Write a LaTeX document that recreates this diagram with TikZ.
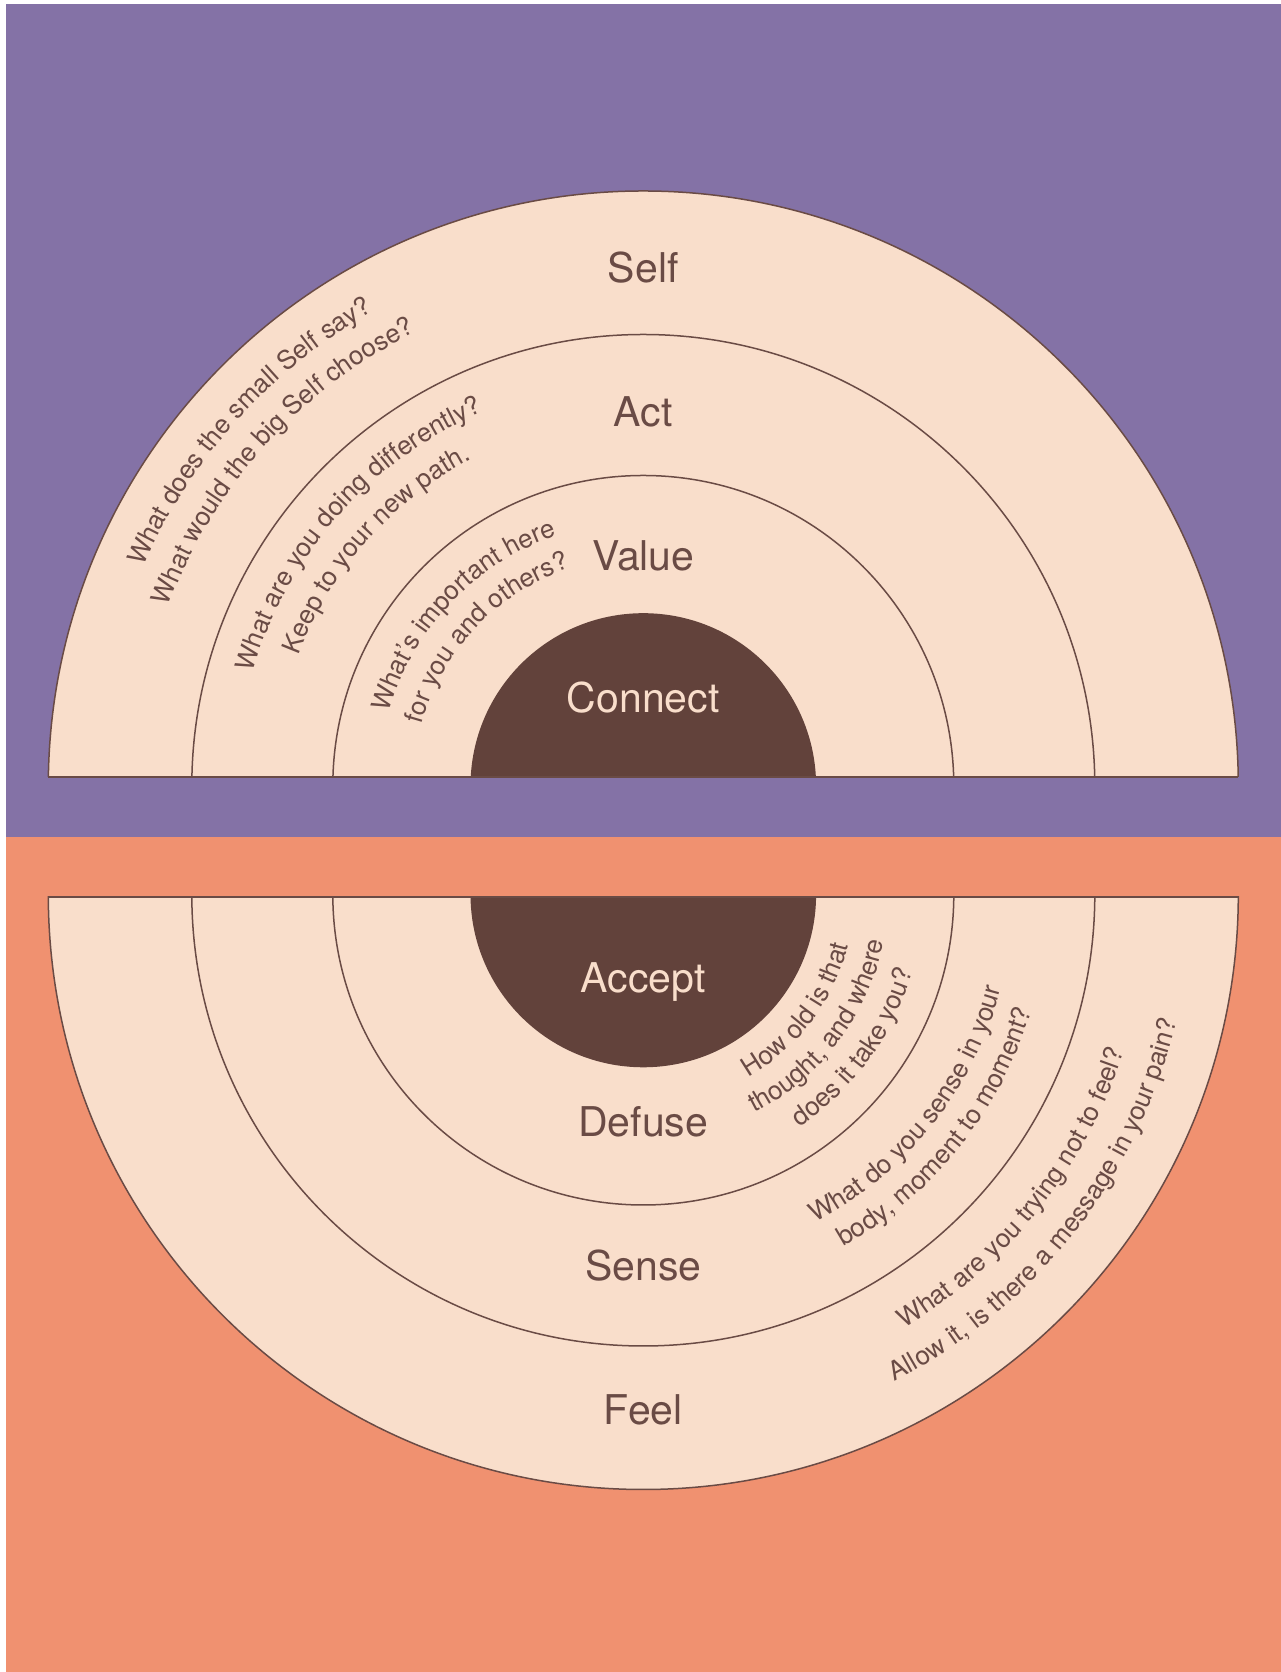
\documentclass[tikz,border=0pt]{standalone}
\usepackage{fontspec}
\setmainfont{TeX Gyre Heros}
\usetikzlibrary{decorations.text}

\definecolor{lilac}{HTML}{8472A6}
\definecolor{coral}{HTML}{F09170}
\definecolor{cream}{HTML}{F9DECB}
\definecolor{bark}{HTML}{62423B}
\definecolor{ink}{HTML}{6A4B45}
\newcommand{\qfont}{\fontsize{26}{31}\selectfont\color{ink}}

\begin{document}
\begin{tikzpicture}[x=1pt,y=1pt,line width=1.5pt,
                ring/.style={draw=ink,fill=cream},
                core/.style={fill=bark},
                ringname/.style={anchor=base,text=ink,font=\fontsize{41}{48}\selectfont},
                corename/.style={ringname,text=cream},
                askline/.style={decorate,decoration={text along path,text align=center,text={|\qfont|#1}}}]
                \useasboundingbox (0,0) rectangle (1281,1672);
                \fill[lilac] (6,1668) rectangle (1281,835);
                \fill[coral] (6,835) rectangle (1281,0);
                \coordinate (cu) at (643.3,886);
                \coordinate (cl) at (643.3,777.5);

                % upper half
                \begin{scope}
                \clip (0,895) rectangle (1281,1672);
                \path[ring] (cu) circle (595);
                \draw[ink] (cu) circle (451.5);
                \draw[ink] (cu) circle (310.5);
                \path[core] (cu) circle (172.8);
                \end{scope}
                \draw[ink] (48.4,895) -- (1238.2,895);

                % lower half
                \begin{scope}
                \clip (0,775) rectangle (1281,0);
                \path[ring] (cl) circle (595);
                \draw[ink] (cl) circle (451.5);
                \draw[ink] (cl) circle (310.5);
                \path[core] (cl) circle (172.8);
                \end{scope}
                \draw[ink] (48.3,775) -- (1238.3,775);

                \node[ringname] (self) at (643.3,1389.8) {Self};
                \node[ringname] (act) at (643.3,1245.8) {Act};
                \node[ringname] (value) at (643.3,1101.8) {Value};
                \node[corename] (connect) at (643.3,959) {Connect};
                \node[corename] (accept) at (643.3,679.5) {Accept};
                \node[ringname] (defuse) at (643.3,535.5) {Defuse};
                \node[ringname] (sense) at (643.3,391.5) {Sense};
                \node[ringname] (feel) at (643.3,247.5) {Feel};

                % questions, upper rings
                \path[askline={What does the small Self say?}] (cu) ++(208:546) arc[start angle=208,end angle=68,radius=546];
                \path[askline={What would the big Self choose?}] (cu) ++(208:508) arc[start angle=208,end angle=68,radius=508];
                \path[askline={What are you doing differently?}] (cu) ++(208.5:407) arc[start angle=208.5,end angle=68.5,radius=407];
                \path[askline={Keep to your new path.}] (cu) ++(208.5:369) arc[start angle=208.5,end angle=68.5,radius=369];
                \path[askline={What’s important here}] (cu) ++(206.5:265) arc[start angle=206.5,end angle=66.5,radius=265];
                \path[askline={for you and others?}] (cu) ++(206.5:230) arc[start angle=206.5,end angle=66.5,radius=230];

                % questions, lower rings
                \path[askline={How old is that}] (cl) ++(-107:211) arc[start angle=-107,end angle=33,radius=211];
                \path[askline={thought, and where}] (cl) ++(-107:245) arc[start angle=-107,end angle=33,radius=245];
                \path[askline={does it take you?}] (cl) ++(-106:280) arc[start angle=-106,end angle=34,radius=280];
                \path[askline={What do you sense in your}] (cl) ++(-108.5:370) arc[start angle=-108.5,end angle=31.5,radius=370];
                \path[askline={body, moment to moment?}] (cl) ++(-108.5:405) arc[start angle=-108.5,end angle=31.5,radius=405];
                \path[askline={What are you trying not to feel?}] (cl) ++(-108.5:506) arc[start angle=-108.5,end angle=31.5,radius=506];
                \path[askline={Allow it, is there a message in your pain?}] (cl) ++(-108:548) arc[start angle=-108,end angle=32,radius=548];
\end{tikzpicture}
\end{document}
